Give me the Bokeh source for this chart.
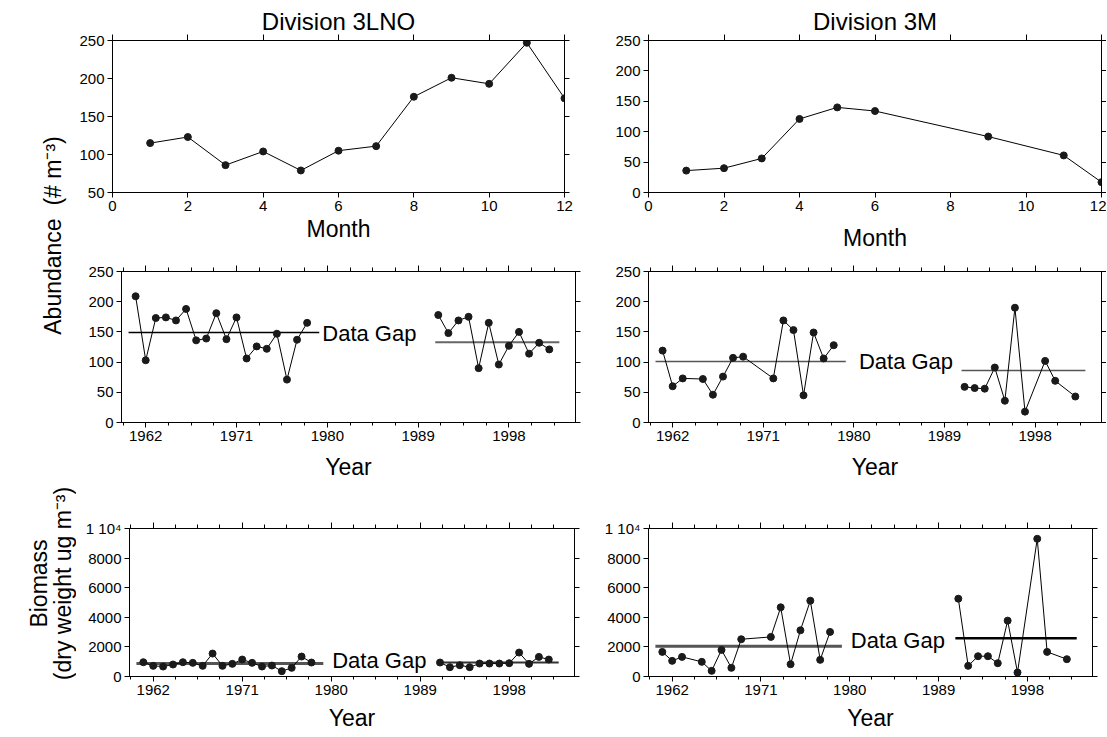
import numpy as np
from bokeh.plotting import figure
from bokeh.layouts import row, column
from bokeh.models import Range1d, LinearAxis, FixedTicker
from bokeh.core.properties import value
from bokeh.embed import file_html
from bokeh.resources import INLINE

FONT = "Liberation Sans"

# ---------------- data ----------------
months_3lno = [1, 2, 3, 4, 5, 6, 7, 8, 9, 10, 11, 12]
abund_month_3lno = [115, 123, 86, 104, 79, 105, 111, 176, 201, 193, 247, 174]
months_3m = [1, 2, 3, 4, 5, 6, 9, 11, 12]
abund_month_3m = [36, 40, 56, 121, 140, 134, 92, 61, 17]

years_3lno_a = list(range(1961, 1979))
years_3lno_b = list(range(1991, 2003))
abund_3lno_a = [209, 103, 173, 174, 169, 188, 136, 139, 181, 138, 174, 106, 126, 122, 147, 71, 137, 165]
abund_3lno_b = [178, 148, 169, 175, 90, 165, 96, 127, 150, 114, 132, 121]
abund_3lno_means = [149, 133]
biom_3lno_a = [966, 719, 674, 809, 966, 921, 719, 1550, 719, 854, 1146, 921, 674, 742, 360, 584, 1348, 944]
biom_3lno_b = [944, 629, 764, 629, 876, 876, 876, 899, 1618, 854, 1326, 1146]
biom_3lno_means = [876, 944]

years_3m_a = [1961, 1962, 1963, 1965, 1966, 1967, 1968, 1969, 1972, 1973, 1974, 1975, 1976, 1977, 1978]
years_3m_b = [1991, 1992, 1993, 1994, 1995, 1996, 1997, 1999, 2000, 2002]
abund_3m_a = [119, 60, 73, 72, 46, 76, 107, 109, 73, 169, 153, 45, 149, 106, 128]
abund_3m_b = [59, 57, 56, 91, 36, 190, 18, 102, 69, 43]
abund_3m_means = [101, 86]
biom_3m_a = [1663, 1056, 1326, 989, 382, 1798, 584, 2517, 2674, 4674, 831, 3123, 5123, 1124, 3011]
biom_3m_b = [5258, 719, 1371, 1371, 899, 3775, 270, 9303, 1663, 1169]
biom_3m_means = [2045, 2584]

# periods covered by the mean lines
mean_period_a = [1960.3, 1979.2]
mean_period_b = [1990.7, 2003.0]

month_ticks = [0, 2, 4, 6, 8, 10, 12]
year_ticks = [1962, 1971, 1980, 1989, 1998]
year_minor = [1959.75 + 2.25 * i for i in range(21)]
abund_ticks_top_left = [50, 100, 150, 200, 250]
abund_ticks = [0, 50, 100, 150, 200, 250]
biom_ticks = [0, 2000, 4000, 6000, 8000, 10000]
biom_overrides = {10000: "1 10\u2074"}

titles = ["Division 3LNO", "Division 3M"]
gap_text = "Data Gap"
side_labels = ["Abundance\u00a0\u00a0(# m\u207b\u00b3)", "Biomass", "(dry weight ug m\u207b\u00b3)"]

DOT = "#1a1a1a"


def style_axis(ax, labels=True, tick_out=5, minor_out=3, size="15px"):
    ax.axis_line_color = "black"
    ax.axis_line_width = 1
    ax.major_tick_line_color = "black"
    ax.minor_tick_line_color = "black"
    ax.major_tick_in = 0
    ax.major_tick_out = tick_out
    ax.minor_tick_in = 0
    ax.minor_tick_out = minor_out
    ax.major_label_text_font = FONT
    ax.major_label_text_font_size = size
    ax.major_label_text_color = "black"
    ax.major_label_standoff = 3
    ax.axis_label_text_font = FONT
    ax.axis_label_text_font_style = "normal"
    ax.axis_label_text_font_size = "23px"
    ax.axis_label_text_color = "black"
    if not labels:
        ax.major_label_text_font_size = "0px"
        ax.major_label_text_color = None
        ax.major_label_standoff = 0


def make_panel(width, height, borders, xr, yr, xticks, xminor, yticks,
               xlabel, xlabel_standoff, title=None, title_offset=0, overrides=None):
    l, r, t, b = borders
    p = figure(width=width, height=height, x_range=Range1d(*xr), y_range=Range1d(*yr),
               min_border_left=l, min_border_right=r, min_border_top=t, min_border_bottom=b,
               toolbar_location=None, output_backend="svg")
    p.xgrid.visible = False
    p.ygrid.visible = False
    p.outline_line_color = "black"
    p.background_fill_color = "white"
    p.border_fill_color = "white"
    p.xaxis.ticker = FixedTicker(ticks=xticks, minor_ticks=xminor)
    p.yaxis.ticker = FixedTicker(ticks=yticks, minor_ticks=[])
    style_axis(p.xaxis[0], True, 5, 3, "15px")
    style_axis(p.yaxis[0], True, 5, 3, "15px")
    p.xaxis.axis_label = xlabel
    p.xaxis.axis_label_standoff = xlabel_standoff
    if overrides:
        p.yaxis.major_label_overrides = overrides
    top = LinearAxis(ticker=FixedTicker(ticks=xticks, minor_ticks=xminor))
    style_axis(top, False, 6, 4)
    p.add_layout(top, "above")
    right = LinearAxis(ticker=FixedTicker(ticks=yticks, minor_ticks=[]))
    style_axis(right, False, 5, 3)
    p.add_layout(right, "right")
    if title:
        p.title.text = title
        p.title.align = "center"
        p.title.text_font = FONT
        p.title.text_font_size = "24px"
        p.title.text_font_style = "normal"
        p.title.text_color = "black"
        p.title.standoff = 0
        p.title.offset = title_offset
    return p


def add_series(p, xs, ys):
    p.line(xs, ys, line_color="black", line_width=1)
    p.scatter(xs, ys, size=7, color=DOT)


def add_mean(p, period, v, color, width):
    p.line(period, [v, v], line_color=color, line_width=width)


def add_gap(p, x, y):
    p.text(x=[x], y=[y], text=[gap_text], text_align="left", text_baseline="middle",
           text_font=value(FONT), text_font_size="22px", text_color="black")


SW, LW, RW = 76, 520, 510
H1, H2, H3 = 255, 245, 237

# row 1: monthly
p1 = make_panel(LW, H1, (35, 32, 40, 63), (0, 12), (50, 250), month_ticks, [],
                abund_ticks_top_left, "Month", 2, titles[0], -7)
add_series(p1, months_3lno, abund_month_3lno)
p2 = make_panel(RW, H1, (52, 5, 40, 63), (0, 12), (0, 250), month_ticks, [],
                abund_ticks, "Month", 11, titles[1], -2)
add_series(p2, months_3m, abund_month_3m)

# row 2: abundance time series
p3 = make_panel(LW, H2, (45, 21, 16, 78), (1959.6, 2004.6), (0, 250), year_ticks, year_minor,
                abund_ticks, "Year", 10)
add_mean(p3, mean_period_a, abund_3lno_means[0], "black", 1.3)
add_mean(p3, mean_period_b, abund_3lno_means[1], "#666666", 2)
add_series(p3, years_3lno_a, abund_3lno_a)
add_series(p3, years_3lno_b, abund_3lno_b)
add_gap(p3, 1979.5, 147)

p4 = make_panel(RW, H2, (52, 5, 16, 78), (1959.6, 2004.6), (0, 250), year_ticks, year_minor,
                abund_ticks, "Year", 10)
add_mean(p4, mean_period_a, abund_3m_means[0], "#555555", 1.5)
add_mean(p4, mean_period_b, abund_3m_means[1], "#555555", 1.5)
add_series(p4, years_3m_a, abund_3m_a)
add_series(p4, years_3m_b, abund_3m_b)
add_gap(p4, 1980.5, 101)

# row 3: biomass time series
p5 = make_panel(LW, H3, (53, 22, 28, 61), (1959.6, 2004.6), (0, 10000), year_ticks, year_minor,
                biom_ticks, "Year", 7, overrides=biom_overrides)
add_mean(p5, mean_period_a, biom_3lno_means[0], "#555555", 3)
add_mean(p5, mean_period_b, biom_3lno_means[1], "#333333", 2)
add_series(p5, years_3lno_a, biom_3lno_a)
add_series(p5, years_3lno_b, biom_3lno_b)
add_gap(p5, 1980.1, 1049)

p6 = make_panel(RW, H3, (52, 14, 28, 61), (1959.6, 2004.6), (0, 10000), year_ticks, year_minor,
                biom_ticks, "Year", 7, overrides=biom_overrides)
add_mean(p6, mean_period_a, biom_3m_means[0], "#555555", 3)
add_mean(p6, mean_period_b, biom_3m_means[1], "black", 2.5)
add_series(p6, years_3m_a, biom_3m_a)
add_series(p6, years_3m_b, biom_3m_b)
add_gap(p6, 1980.1, 2430)

# side labels (positions in page pixels of this narrow strip)
TOTAL_H = H1 + H2 + H3
lab = figure(width=SW, height=TOTAL_H, x_range=Range1d(0, SW), y_range=Range1d(0, TOTAL_H),
             toolbar_location=None, output_backend="svg", min_border=0,
             x_axis_type=None, y_axis_type=None)
lab.outline_line_color = None
lab.text(x=[52, 38, 62], y=[TOTAL_H - 235, TOTAL_H - 583, TOTAL_H - 583],
         text=side_labels,
         angle=np.pi / 2, text_align="center", text_baseline="middle",
         text_font=value(FONT), text_font_size="23px", text_color="black")

layout = row(lab, column(row(p1, p2), row(p3, p4), row(p5, p6)))

open("out.html", "w").write(file_html(layout, INLINE))
